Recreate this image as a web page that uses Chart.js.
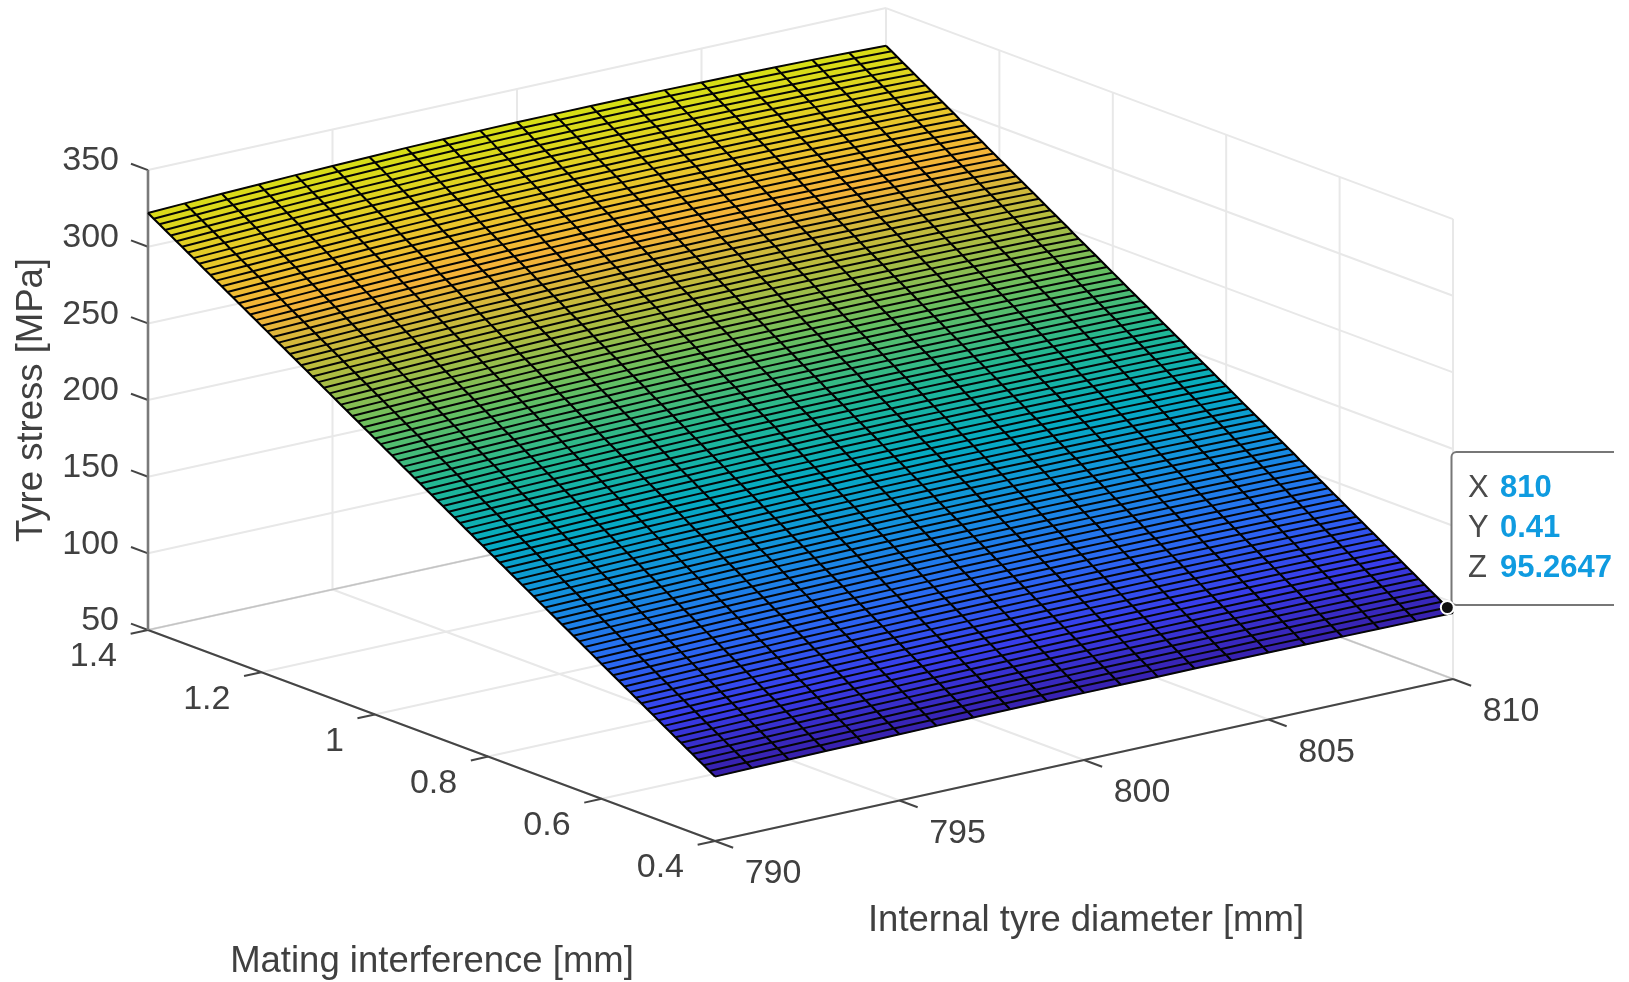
<!DOCTYPE html>
<html><head><meta charset="utf-8"><title>Tyre stress surface</title>
<script src="https://cdn.jsdelivr.net/npm/chart.js@4"></script>
<style>html,body{margin:0;padding:0;background:#fff}canvas{display:block;filter:blur(0.5px)}</style>
</head><body><canvas id="c" width="1629" height="982"></canvas>
<script>
// Values (corners, edges, data tip), smoothed by eye across the dense mesh.
const diameterValues=[790,791,792,793,794,795,796,797,798,799,800,801,802,803,804,805,806,807,808,809,810];
const interferenceValues=[0.40,0.41,0.42,0.43,0.44,0.45,0.46,0.47,0.48,0.49,0.50,0.51,0.52,0.53,0.54,0.55,0.56,0.57,0.58,0.59,0.60,0.61,0.62,0.63,0.64,0.65,0.66,0.67,0.68,0.69,0.70,0.71,0.72,0.73,0.74,0.75,0.76,0.77,0.78,0.79,0.80,0.81,0.82,0.83,0.84,0.85,0.86,0.87,0.88,0.89,0.90,0.91,0.92,0.93,0.94,0.95,0.96,0.97,0.98,0.99,1.00,1.01,1.02,1.03,1.04,1.05,1.06,1.07,1.08,1.09,1.10,1.11,1.12,1.13,1.14,1.15,1.16,1.17,1.18,1.19,1.20,1.21,1.22,1.23,1.24,1.25,1.26,1.27,1.28,1.29,1.30,1.31,1.32,1.33,1.34,1.35,1.36,1.37,1.38,1.39,1.40];
const stressRows=[
[92.0,92.3,92.6,92.8,93.0,93.2,93.4,93.6,93.7,93.8,93.8,93.8,93.8,93.8,93.8,93.7,93.6,93.5,93.4,93.2,93.0],
[94.3,94.6,94.9,95.1,95.4,95.6,95.7,95.9,96.0,96.1,96.2,96.2,96.2,96.1,96.1,96.0,95.9,95.8,95.7,95.5,95.3],
[96.6,96.9,97.2,97.4,97.7,97.9,98.1,98.2,98.4,98.4,98.5,98.5,98.5,98.5,98.4,98.4,98.3,98.2,98.0,97.9,97.7],
[98.9,99.2,99.5,99.8,100.0,100.2,100.4,100.6,100.7,100.8,100.9,100.9,100.9,100.8,100.8,100.7,100.6,100.5,100.4,100.2,100.0],
[101.2,101.5,101.8,102.1,102.3,102.6,102.7,102.9,103.0,103.1,103.2,103.2,103.2,103.2,103.1,103.0,103.0,102.8,102.7,102.5,102.3],
[103.5,103.8,104.1,104.4,104.7,104.9,105.1,105.3,105.4,105.5,105.6,105.6,105.6,105.5,105.5,105.4,105.3,105.2,105.0,104.9,104.6],
[105.8,106.1,106.4,106.7,107.0,107.2,107.4,107.6,107.7,107.8,107.9,107.9,107.9,107.9,107.8,107.7,107.6,107.5,107.4,107.2,107.0],
[108.1,108.4,108.8,109.0,109.3,109.6,109.7,109.9,110.1,110.2,110.3,110.3,110.3,110.2,110.2,110.1,110.0,109.8,109.7,109.5,109.3],
[110.4,110.7,111.1,111.4,111.6,111.9,112.1,112.3,112.4,112.5,112.6,112.6,112.6,112.6,112.5,112.4,112.3,112.2,112.0,111.8,111.6],
[112.7,113.0,113.4,113.7,114.0,114.2,114.4,114.6,114.8,114.9,115.0,115.0,115.0,114.9,114.9,114.8,114.7,114.5,114.4,114.2,113.9],
[115.0,115.4,115.7,116.0,116.3,116.6,116.8,117.0,117.1,117.2,117.3,117.3,117.3,117.3,117.2,117.1,117.0,116.9,116.7,116.5,116.3],
[117.3,117.7,118.0,118.3,118.6,118.9,119.1,119.3,119.4,119.5,119.6,119.6,119.6,119.6,119.5,119.4,119.3,119.2,119.0,118.8,118.6],
[119.6,120.0,120.3,120.6,121.0,121.2,121.4,121.6,121.8,121.9,122.0,122.0,122.0,121.9,121.9,121.8,121.7,121.5,121.4,121.2,120.9],
[121.9,122.3,122.6,123.0,123.3,123.5,123.8,124.0,124.1,124.2,124.3,124.3,124.3,124.3,124.2,124.1,124.0,123.9,123.7,123.5,123.2],
[124.2,124.6,125.0,125.3,125.6,125.9,126.1,126.3,126.5,126.6,126.7,126.7,126.7,126.6,126.6,126.5,126.4,126.2,126.0,125.8,125.6],
[126.5,126.9,127.3,127.6,127.9,128.2,128.4,128.6,128.8,128.9,129.0,129.0,129.0,129.0,128.9,128.8,128.7,128.5,128.4,128.2,127.9],
[128.8,129.2,129.6,129.9,130.3,130.5,130.8,131.0,131.2,131.3,131.4,131.4,131.4,131.3,131.3,131.2,131.0,130.9,130.7,130.5,130.2],
[131.1,131.5,131.9,132.2,132.6,132.9,133.1,133.3,133.5,133.6,133.7,133.7,133.7,133.7,133.6,133.5,133.4,133.2,133.0,132.8,132.5],
[133.4,133.8,134.2,134.6,134.9,135.2,135.4,135.7,135.8,136.0,136.1,136.1,136.1,136.0,136.0,135.8,135.7,135.5,135.4,135.1,134.9],
[135.7,136.1,136.5,136.9,137.2,137.5,137.8,138.0,138.2,138.3,138.4,138.4,138.4,138.4,138.3,138.2,138.1,137.9,137.7,137.5,137.2],
[138.0,138.4,138.8,139.2,139.6,139.9,140.1,140.3,140.5,140.6,140.8,140.8,140.8,140.7,140.6,140.5,140.4,140.2,140.0,139.8,139.5],
[140.3,140.7,141.1,141.5,141.9,142.2,142.4,142.6,142.8,142.9,143.1,143.1,143.1,143.0,142.9,142.8,142.7,142.5,142.3,142.1,141.8],
[142.6,143.0,143.4,143.8,144.2,144.5,144.7,144.9,145.1,145.2,145.4,145.4,145.4,145.3,145.2,145.1,145.0,144.8,144.6,144.4,144.1],
[144.9,145.4,145.8,146.2,146.6,146.9,147.2,147.4,147.6,147.8,147.9,147.9,147.9,147.9,147.8,147.6,147.5,147.3,147.1,146.9,146.5],
[147.2,147.7,148.1,148.5,148.9,149.2,149.5,149.7,149.9,150.1,150.2,150.2,150.2,150.2,150.1,149.9,149.8,149.6,149.4,149.2,148.8],
[149.5,150.0,150.4,150.8,151.2,151.5,151.8,152.0,152.2,152.4,152.5,152.5,152.5,152.5,152.4,152.2,152.1,151.9,151.7,151.5,151.1],
[151.8,152.3,152.7,153.1,153.5,153.8,154.1,154.3,154.5,154.7,154.8,154.8,154.8,154.8,154.7,154.5,154.4,154.2,154.0,153.8,153.4],
[154.1,154.6,155.0,155.4,155.8,156.1,156.4,156.6,156.8,157.0,157.1,157.1,157.1,157.1,157.0,156.8,156.7,156.5,156.3,156.1,155.7],
[156.4,156.9,157.4,157.8,158.2,158.6,158.9,159.1,159.3,159.5,159.6,159.6,159.6,159.6,159.5,159.3,159.2,159.0,158.8,158.5,158.2],
[158.7,159.2,159.7,160.1,160.5,160.9,161.2,161.4,161.6,161.8,161.9,161.9,161.9,161.9,161.8,161.6,161.5,161.3,161.1,160.8,160.5],
[161.0,161.5,162.0,162.4,162.8,163.2,163.5,163.7,163.9,164.1,164.2,164.2,164.2,164.2,164.1,163.9,163.8,163.6,163.4,163.1,162.8],
[163.3,163.8,164.3,164.7,165.1,165.5,165.8,166.0,166.2,166.4,166.5,166.5,166.5,166.5,166.4,166.2,166.1,165.9,165.7,165.4,165.1],
[165.6,166.1,166.6,167.0,167.4,167.8,168.1,168.3,168.5,168.7,168.8,168.8,168.8,168.8,168.7,168.5,168.4,168.2,168.0,167.7,167.4],
[167.9,168.4,168.9,169.4,169.9,170.2,170.5,170.8,171.1,171.2,171.4,171.4,171.4,171.3,171.2,171.1,170.9,170.7,170.4,170.2,169.8],
[170.2,170.7,171.2,171.7,172.2,172.5,172.8,173.1,173.4,173.5,173.7,173.7,173.7,173.6,173.5,173.4,173.2,173.0,172.7,172.5,172.1],
[172.5,173.0,173.5,174.0,174.5,174.8,175.1,175.4,175.7,175.8,176.0,176.0,176.0,175.9,175.8,175.7,175.5,175.3,175.0,174.8,174.4],
[174.8,175.3,175.8,176.3,176.8,177.1,177.4,177.7,178.0,178.1,178.3,178.3,178.3,178.2,178.1,178.0,177.8,177.6,177.3,177.1,176.7],
[177.1,177.6,178.1,178.6,179.1,179.4,179.7,180.0,180.3,180.4,180.6,180.6,180.6,180.5,180.4,180.3,180.1,179.9,179.6,179.4,179.0],
[179.4,180.0,180.5,181.0,181.5,181.9,182.2,182.5,182.8,182.9,183.1,183.1,183.1,183.0,182.9,182.8,182.6,182.4,182.1,181.8,181.4],
[181.7,182.3,182.8,183.3,183.8,184.2,184.5,184.8,185.1,185.2,185.4,185.4,185.4,185.3,185.2,185.1,184.9,184.7,184.4,184.1,183.7],
[184.0,184.6,185.1,185.6,186.1,186.5,186.8,187.1,187.4,187.5,187.7,187.7,187.7,187.6,187.5,187.4,187.2,187.0,186.7,186.4,186.0],
[186.3,186.9,187.4,187.9,188.4,188.8,189.1,189.4,189.7,189.8,190.0,190.0,190.0,189.9,189.8,189.7,189.5,189.3,189.0,188.7,188.3],
[188.6,189.2,189.7,190.2,190.7,191.1,191.4,191.7,192.0,192.1,192.3,192.3,192.3,192.2,192.1,192.0,191.8,191.6,191.3,191.0,190.6],
[190.9,191.5,192.1,192.6,193.1,193.5,193.9,194.2,194.5,194.6,194.8,194.8,194.8,194.7,194.6,194.5,194.3,194.0,193.8,193.5,193.0],
[193.2,193.8,194.4,194.9,195.4,195.8,196.2,196.5,196.8,196.9,197.1,197.1,197.1,197.0,196.9,196.8,196.6,196.3,196.1,195.8,195.3],
[195.5,196.1,196.7,197.2,197.7,198.1,198.5,198.8,199.1,199.2,199.4,199.4,199.4,199.3,199.2,199.1,198.9,198.6,198.4,198.1,197.6],
[197.8,198.4,199.0,199.5,200.0,200.4,200.8,201.1,201.4,201.5,201.7,201.7,201.7,201.6,201.5,201.4,201.2,200.9,200.7,200.4,199.9],
[200.1,200.7,201.3,201.8,202.3,202.7,203.1,203.4,203.7,203.8,204.0,204.0,204.0,203.9,203.8,203.7,203.5,203.2,203.0,202.7,202.2],
[202.4,203.0,203.7,204.2,204.7,205.2,205.6,205.9,206.2,206.4,206.5,206.5,206.5,206.5,206.4,206.2,206.0,205.7,205.5,205.1,204.7],
[204.7,205.3,206.0,206.5,207.0,207.5,207.9,208.2,208.5,208.7,208.8,208.8,208.8,208.8,208.7,208.5,208.3,208.0,207.8,207.4,207.0],
[207.0,207.6,208.3,208.8,209.3,209.8,210.2,210.5,210.8,211.0,211.1,211.1,211.1,211.1,211.0,210.8,210.6,210.3,210.1,209.7,209.3],
[209.3,209.9,210.6,211.1,211.6,212.1,212.5,212.8,213.1,213.3,213.4,213.4,213.4,213.4,213.3,213.1,212.9,212.6,212.4,212.0,211.6],
[211.6,212.2,212.9,213.4,213.9,214.4,214.8,215.1,215.4,215.6,215.7,215.7,215.7,215.7,215.6,215.4,215.2,214.9,214.7,214.3,213.9],
[213.9,214.6,215.2,215.8,216.4,216.8,217.2,217.6,217.9,218.1,218.3,218.3,218.3,218.2,218.1,217.9,217.7,217.4,217.1,216.8,216.3],
[216.2,216.9,217.5,218.1,218.7,219.1,219.5,219.9,220.2,220.4,220.6,220.6,220.6,220.5,220.4,220.2,220.0,219.7,219.4,219.1,218.6],
[218.5,219.2,219.8,220.4,221.0,221.4,221.8,222.2,222.5,222.7,222.9,222.9,222.9,222.8,222.7,222.5,222.3,222.0,221.7,221.4,220.9],
[220.8,221.5,222.1,222.7,223.3,223.7,224.1,224.5,224.8,225.0,225.2,225.2,225.2,225.1,225.0,224.8,224.6,224.3,224.0,223.7,223.2],
[223.1,223.8,224.4,225.0,225.6,226.0,226.4,226.8,227.1,227.3,227.5,227.5,227.5,227.4,227.3,227.1,226.9,226.6,226.3,226.0,225.5],
[225.4,226.1,226.8,227.4,228.0,228.5,228.9,229.3,229.6,229.8,230.0,230.0,230.0,229.9,229.8,229.6,229.4,229.1,228.8,228.4,227.9],
[227.7,228.4,229.1,229.7,230.3,230.8,231.2,231.6,231.9,232.1,232.3,232.3,232.3,232.2,232.1,231.9,231.7,231.4,231.1,230.7,230.2],
[230.0,230.7,231.4,232.0,232.6,233.1,233.5,233.9,234.2,234.4,234.6,234.6,234.6,234.5,234.4,234.2,234.0,233.7,233.4,233.0,232.5],
[232.3,233.0,233.7,234.3,234.9,235.4,235.8,236.2,236.5,236.7,236.9,236.9,236.9,236.8,236.7,236.5,236.3,236.0,235.7,235.3,234.8],
[234.6,235.3,236.0,236.6,237.2,237.7,238.1,238.5,238.8,239.0,239.2,239.2,239.2,239.1,239.0,238.8,238.6,238.3,238.0,237.6,237.1],
[236.9,237.6,238.4,239.0,239.6,240.2,240.6,241.0,241.3,241.5,241.7,241.7,241.7,241.6,241.5,241.3,241.1,240.8,240.5,240.1,239.5],
[239.2,239.9,240.7,241.3,241.9,242.5,242.9,243.3,243.6,243.8,244.0,244.0,244.0,243.9,243.8,243.6,243.4,243.1,242.8,242.4,241.8],
[241.5,242.2,243.0,243.6,244.2,244.8,245.2,245.6,245.9,246.1,246.3,246.3,246.3,246.2,246.1,245.9,245.7,245.4,245.1,244.7,244.1],
[243.8,244.5,245.3,245.9,246.5,247.1,247.5,247.9,248.2,248.4,248.6,248.6,248.6,248.5,248.4,248.2,248.0,247.7,247.4,247.0,246.4],
[246.1,246.8,247.6,248.2,248.8,249.4,249.8,250.2,250.5,250.7,250.9,250.9,250.9,250.8,250.7,250.5,250.3,250.0,249.7,249.3,248.7],
[248.4,249.2,249.9,250.6,251.3,251.8,252.3,252.7,253.0,253.2,253.5,253.5,253.5,253.4,253.2,253.0,252.8,252.5,252.1,251.7,251.2],
[250.7,251.5,252.2,252.9,253.6,254.1,254.6,255.0,255.3,255.5,255.8,255.8,255.8,255.7,255.5,255.3,255.1,254.8,254.4,254.0,253.5],
[253.0,253.8,254.5,255.2,255.9,256.4,256.9,257.3,257.6,257.8,258.1,258.1,258.1,258.0,257.8,257.6,257.4,257.1,256.7,256.3,255.8],
[255.3,256.1,256.8,257.5,258.2,258.7,259.2,259.6,259.9,260.1,260.4,260.4,260.4,260.3,260.1,259.9,259.7,259.4,259.0,258.6,258.1],
[257.6,258.4,259.1,259.8,260.5,261.0,261.5,261.9,262.2,262.4,262.7,262.7,262.7,262.6,262.4,262.2,262.0,261.7,261.3,260.9,260.4],
[259.9,260.7,261.5,262.2,262.9,263.5,263.9,264.4,264.7,265.0,265.2,265.2,265.2,265.1,265.0,264.7,264.5,264.2,263.8,263.4,262.8],
[262.2,263.0,263.8,264.5,265.2,265.8,266.2,266.7,267.0,267.3,267.5,267.5,267.5,267.4,267.3,267.0,266.8,266.5,266.1,265.7,265.1],
[264.5,265.3,266.1,266.8,267.5,268.1,268.5,269.0,269.3,269.6,269.8,269.8,269.8,269.7,269.6,269.3,269.1,268.8,268.4,268.0,267.4],
[266.8,267.6,268.4,269.1,269.8,270.4,270.8,271.3,271.6,271.9,272.1,272.1,272.1,272.0,271.9,271.6,271.4,271.1,270.7,270.3,269.7],
[269.1,269.9,270.7,271.4,272.1,272.7,273.1,273.6,273.9,274.2,274.4,274.4,274.4,274.3,274.2,273.9,273.7,273.4,273.0,272.6,272.0],
[271.4,272.2,273.1,273.8,274.5,275.1,275.6,276.1,276.4,276.7,276.9,276.9,276.9,276.8,276.7,276.4,276.2,275.8,275.5,275.0,274.4],
[273.7,274.5,275.4,276.1,276.8,277.4,277.9,278.4,278.7,279.0,279.2,279.2,279.2,279.1,279.0,278.7,278.5,278.1,277.8,277.3,276.7],
[276.0,276.8,277.7,278.4,279.1,279.7,280.2,280.7,281.0,281.3,281.5,281.5,281.5,281.4,281.3,281.0,280.8,280.4,280.1,279.6,279.0],
[278.3,279.1,280.0,280.7,281.4,282.0,282.5,283.0,283.3,283.6,283.8,283.8,283.8,283.7,283.6,283.3,283.1,282.7,282.4,281.9,281.3],
[280.6,281.4,282.3,283.0,283.7,284.3,284.8,285.3,285.6,285.9,286.1,286.1,286.1,286.0,285.9,285.6,285.4,285.0,284.7,284.2,283.6],
[282.9,283.8,284.7,285.4,286.2,286.8,287.3,287.8,288.2,288.4,288.7,288.7,288.7,288.5,288.4,288.2,287.9,287.5,287.2,286.7,286.0],
[285.2,286.1,287.0,287.7,288.5,289.1,289.6,290.1,290.5,290.7,291.0,291.0,291.0,290.8,290.7,290.5,290.2,289.8,289.5,289.0,288.3],
[287.5,288.4,289.3,290.0,290.8,291.4,291.9,292.4,292.8,293.0,293.3,293.3,293.3,293.1,293.0,292.8,292.5,292.1,291.8,291.3,290.6],
[289.8,290.7,291.6,292.3,293.1,293.7,294.2,294.7,295.1,295.3,295.6,295.6,295.6,295.4,295.3,295.1,294.8,294.4,294.1,293.6,292.9],
[292.1,293.0,293.9,294.6,295.4,296.0,296.5,297.0,297.4,297.6,297.9,297.9,297.9,297.7,297.6,297.4,297.1,296.7,296.4,295.9,295.2],
[294.4,295.3,296.2,297.0,297.8,298.4,299.0,299.5,299.9,300.1,300.4,300.4,300.4,300.3,300.1,299.9,299.6,299.2,298.8,298.3,297.7],
[296.7,297.6,298.5,299.3,300.1,300.7,301.3,301.8,302.2,302.4,302.7,302.7,302.7,302.6,302.4,302.2,301.9,301.5,301.1,300.6,300.0],
[299.0,299.9,300.8,301.6,302.4,303.0,303.6,304.1,304.5,304.7,305.0,305.0,305.0,304.9,304.7,304.5,304.2,303.8,303.4,302.9,302.3],
[301.3,302.2,303.1,303.9,304.7,305.3,305.9,306.4,306.8,307.0,307.3,307.3,307.3,307.2,307.0,306.8,306.5,306.1,305.7,305.2,304.6],
[303.6,304.5,305.4,306.2,307.0,307.6,308.2,308.7,309.1,309.3,309.6,309.6,309.6,309.5,309.3,309.1,308.8,308.4,308.0,307.5,306.9],
[305.9,306.9,307.8,308.6,309.4,310.1,310.6,311.2,311.6,311.8,312.1,312.1,312.1,312.0,311.8,311.6,311.3,310.9,310.5,310.0,309.3],
[308.2,309.2,310.1,310.9,311.7,312.4,312.9,313.5,313.9,314.1,314.4,314.4,314.4,314.3,314.1,313.9,313.6,313.2,312.8,312.3,311.6],
[310.5,311.5,312.4,313.2,314.0,314.7,315.2,315.8,316.2,316.4,316.7,316.7,316.7,316.6,316.4,316.2,315.9,315.5,315.1,314.6,313.9],
[312.8,313.8,314.7,315.5,316.3,317.0,317.5,318.1,318.5,318.7,319.0,319.0,319.0,318.9,318.7,318.5,318.2,317.8,317.4,316.9,316.2],
[315.1,316.1,317.0,317.8,318.6,319.3,319.8,320.4,320.8,321.0,321.3,321.3,321.3,321.2,321.0,320.8,320.5,320.1,319.7,319.2,318.5],
[317.4,318.4,319.4,320.2,321.0,321.7,322.3,322.9,323.3,323.6,323.8,323.8,323.8,323.7,323.6,323.3,323.0,322.6,322.2,321.6,320.9],
[319.7,320.7,321.7,322.5,323.3,324.0,324.6,325.2,325.6,325.9,326.1,326.1,326.1,326.0,325.9,325.6,325.3,324.9,324.5,323.9,323.2],
[322.0,323.0,324.0,324.8,325.6,326.3,326.9,327.5,327.9,328.2,328.4,328.4,328.4,328.3,328.2,327.9,327.6,327.2,326.8,326.2,325.5]
];
const xTicks=[790,795,800,805,810];
const yTicks=[0.4,0.6,0.8,1,1.2,1.4];
const zTicks=[50,100,150,200,250,300,350];
const xTickLabels=['790','795','800','805','810'];
const yTickLabels=['0.4','0.6','0.8','1','1.2','1.4'];
const zTickLabels=['50','100','150','200','250','300','350'];
const tipPoint=[810,0.41,95.2647];
const tipLabels=['X','Y','Z'];
const tipValues=['810','0.41','95.2647'];
const xTitle='Internal tyre diameter [mm]';
const yTitle='Mating interference [mm]';
const zTitle='Tyre stress [MPa]';

// View of the 3-D box onto the page (orthographic, as in the source figure).
function project(x,y,z){
  return {x:715+(x-790)*36.9+(y-0.4)*-567,
          y:841+(x-790)*-8.1+(y-0.4)*-211+(z-50)*-1.533};
}
const parula=[[.22,.12,.66],[.22,.24,.92],[.16,.42,.95],[.08,.56,.88],[.02,.67,.76],[.13,.72,.58],[.40,.75,.38],[.72,.74,.24],[.96,.70,.22],[.90,.80,.15],[.84,.88,.08]];
function colour(z){
  const t=Math.max(0,Math.min(1,(z-92)/(328.4-92)))*10,i=Math.min(9,Math.floor(t)),f=t-i;
  const c=parula[i].map((v,k)=>Math.round(255*(v+(parula[i+1][k]-v)*f)));
  return `rgb(${c[0]},${c[1]},${c[2]})`;
}
const datasets=[];
function seg(points,color,width,order){
  datasets.push({data:points,showLine:true,fill:false,borderColor:color,borderWidth:width,pointRadius:0,order,borderCapStyle:'butt',clip:false});
}
const GRID='#e8e8e8',EDGE='#c4c4c4',AX='#454545';
const X0=xTicks[0],X1=xTicks[4],Y0=yTicks[0],Y1=yTicks[5],Z0=zTicks[0],Z1=zTicks[6];
xTicks.forEach(x=>{seg([project(x,Y0,Z0),project(x,Y1,Z0)],GRID,2,5);seg([project(x,Y1,Z0),project(x,Y1,Z1)],GRID,2,5);});
yTicks.forEach(y=>{seg([project(X0,y,Z0),project(X1,y,Z0)],GRID,2,5);seg([project(X1,y,Z0),project(X1,y,Z1)],GRID,2,5);});
zTicks.forEach(z=>{seg([project(X0,Y1,z),project(X1,Y1,z)],GRID,2,5);seg([project(X1,Y0,z),project(X1,Y1,z)],GRID,2,5);});
seg([project(X0,Y1,Z0),project(X1,Y1,Z0)],EDGE,1.6,4);
seg([project(X1,Y0,Z0),project(X1,Y1,Z0)],EDGE,1.6,4);
// axes and tick marks
seg([project(X0,Y1,Z0),project(X0,Y1,Z1)],'#7a7a7a',2.6,3);
seg([project(X0,Y0,Z0),project(X0,Y1,Z0)],AX,2,3);
seg([project(X0,Y0,Z0),project(X1,Y0,Z0)],AX,2,3);
xTicks.forEach(x=>seg([project(x,Y0,Z0),project(x,Y0-0.032,Z0)],AX,2,3));
yTicks.forEach(y=>seg([project(X0,y,Z0),project(X0-0.47,y,Z0)],AX,2,3));
zTicks.forEach(z=>seg([project(X0,Y1,z),project(X0,Y1+0.03,z)],AX,2,3));
// surface faces
for(let r=0;r<interferenceValues.length-1;r++)for(let c=0;c<diameterValues.length-1;c++){
  const m=(stressRows[r][c]+stressRows[r][c+1]+stressRows[r+1][c]+stressRows[r+1][c+1])/4,col=colour(m);
  const P=(i,j)=>project(diameterValues[j],interferenceValues[i],stressRows[i][j]);
  datasets.push({data:[P(r,c),P(r,c+1),P(r+1,c+1),P(r+1,c),P(r,c)],showLine:true,fill:'shape',backgroundColor:col,borderColor:col,borderWidth:0.6,pointRadius:0,order:2,clip:false});
}
// mesh
interferenceValues.forEach((y,r)=>seg(diameterValues.map((x,c)=>project(x,y,stressRows[r][c])),'#050505',2.0,1));
diameterValues.forEach((x,c)=>seg(interferenceValues.map((y,r)=>project(x,y,stressRows[r][c])),'#000',2.1,1));
// data tip marker
const tipP=project(tipPoint[0],tipPoint[1],tipPoint[2]);
datasets.push({data:[tipP],showLine:false,pointRadius:6.5,pointBackgroundColor:'#111',pointBorderColor:'#fff',pointBorderWidth:2,order:0,clip:false});
const tipIndex=datasets.length-1;

const textPlugin={id:'text3d',
 beforeDatasetDraw(chart,args){
  if(args.index!==tipIndex)return;
  const ctx=chart.ctx;ctx.save();
  ctx.beginPath();ctx.rect(0,0,1614,982);ctx.clip();
  ctx.beginPath();ctx.roundRect(1451.5,452,220,153,5);
  ctx.fillStyle='#fff';ctx.fill();ctx.strokeStyle='#777';ctx.lineWidth=2;ctx.stroke();
  const ys=[488,528,568];
  ctx.textBaseline='middle';ctx.textAlign='left';
  tipLabels.forEach((l,i)=>{
    ctx.font='31px "Liberation Sans"';ctx.fillStyle='#4a4a4a';ctx.fillText(l,1468,ys[i]);
    ctx.font='bold 31px "Liberation Sans"';ctx.fillStyle='#0f9be0';ctx.fillText(tipValues[i],1500,ys[i]);
  });
  ctx.restore();
 },
 afterDatasetsDraw(chart){
  const ctx=chart.ctx,sx=chart.scales.x,sy=chart.scales.y;
  const px=p=>({x:sx.getPixelForValue(p.x),y:sy.getPixelForValue(p.y)});
  ctx.save();ctx.fillStyle='#404040';ctx.textBaseline='middle';
  ctx.font='34px "Liberation Sans"';
  ctx.textAlign='right';
  zTicks.forEach((z,i)=>{const p=px(project(X0,Y1,z));ctx.fillText(zTickLabels[i],p.x-29,p.y-9);});
  yTicks.forEach((y,i)=>{const p=px(project(X0,y,Z0));ctx.fillText(yTickLabels[i],p.x-31,p.y+27);});
  ctx.textAlign='center';
  xTicks.forEach((x,i)=>{const p=px(project(x,Y0,Z0));ctx.fillText(xTickLabels[i],p.x+58,p.y+33);});
  ctx.font='36.5px "Liberation Sans"';
  ctx.fillText(xTitle,1086,921);
  ctx.fillText(yTitle,432,962);
  ctx.translate(32,400);ctx.rotate(-Math.PI/2);ctx.fillText(zTitle,0,0);
  ctx.restore();
 }};
new Chart(document.getElementById('c'),{type:'scatter',data:{datasets},plugins:[textPlugin],options:{
  responsive:false,animation:false,events:[],layout:{padding:0,autoPadding:false},
  plugins:{legend:{display:false},tooltip:{enabled:false}},
  elements:{line:{tension:0}},
  scales:{x:{type:'linear',display:false,min:0,max:1629},y:{type:'linear',display:false,min:0,max:982,reverse:true}}
}});
</script></body></html>
